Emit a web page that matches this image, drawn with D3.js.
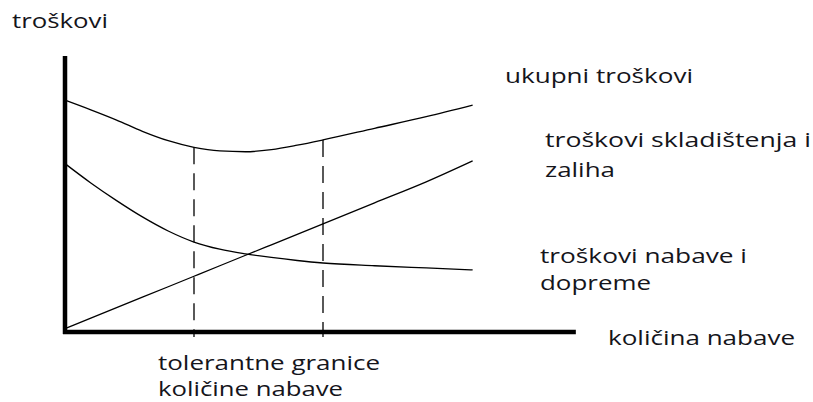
<!DOCTYPE html>
<html lang="hr">
<head>
<meta charset="UTF-8">
<title>Troškovi i količina nabave</title>
<script src="https://d3js.org/d3.v7.min.js"></script>
<style>
    body { margin: 0; background: #fff; }
    .axis { stroke: #000; stroke-width: 4.5px; }
    .curve { fill: none; stroke: #000; stroke-width: 1.3px; }
    .limit { stroke: #000; stroke-width: 1.3px; stroke-dasharray: 17 9; }
    text { font-family: "Open Sans", sans-serif; font-size: 20px; fill: #15151b; }
</style>
</head>
<body>
<svg width="813" height="402"></svg>
<script>
    // količina nabave (x) and troškovi (y) in arbitrary units
    const qty = [0, 5, 10, 15, 20, 25, 30, 35, 40, 45, 50, 60, 70, 79];
    const ukupni = [84, 80.5, 76.8, 72.7, 69.3, 66.9, 65.6, 65.3, 66.1, 67.7, 69.6, 73.8, 78, 82.2];
    const nabave = [61, 54, 47.6, 41.7, 36.6, 32.6, 30, 28.3, 27, 25.9, 25, 24, 23.2, 22.5];
    const skladistenje = [1.2, 5, 8.8, 12.6, 16.4, 20.2, 24, 27.8, 31.6, 35.4, 39.2, 46.8, 54.4, 62];
    const limits = [25, 50];
    const xMax = 99;

    // labels: text, x, baseline, width
    const labels = [
        { t: "troškovi", x: 12, y: 28, w: 96 },
        { t: "ukupni troškovi", x: 505, y: 83, w: 188 },
        { t: "troškovi skladištenja i", x: 545, y: 147, w: 266 },
        { t: "zaliha", x: 545, y: 177, w: 70 },
        { t: "troškovi nabave i", x: 540, y: 263, w: 207 },
        { t: "dopreme", x: 540, y: 290, w: 111 },
        { t: "količina nabave", x: 608, y: 345, w: 187 },
        { t: "tolerantne granice", x: 158, y: 370, w: 222 },
        { t: "količine nabave", x: 158, y: 396, w: 185 }
    ];

    const svg = d3.select("svg");
    const x = d3.scaleLinear().domain([0, 100]).range([65, 581]);
    const y = d3.scaleLinear().domain([0, 100]).range([332, 56]);

    const line = d3.line()
        .x((d, i) => x(qty[i]))
        .y(d => y(d))
        .curve(d3.curveMonotoneX);

    // dashed tolerance limits
    svg.selectAll(".limit")
        .data(limits)
        .enter().append("line")
        .attr("class", "limit")
        .attr("x1", d => x(d))
        .attr("x2", d => x(d))
        .attr("y1", d => y(ukupni[qty.indexOf(d)]))
        .attr("y2", y(0) + 5);

    svg.selectAll(".curve")
        .data([ukupni, nabave, skladistenje])
        .enter().append("path")
        .attr("class", "curve")
        .attr("d", line);

    // axes
    svg.append("line").attr("class", "axis")
        .attr("x1", x(0)).attr("x2", x(0))
        .attr("y1", y(100)).attr("y2", y(0) + 2);
    svg.append("line").attr("class", "axis")
        .attr("x1", x(0) - 2).attr("x2", x(xMax))
        .attr("y1", y(0)).attr("y2", y(0));

    svg.selectAll(".label")
        .data(labels)
        .enter().append("text")
        .attr("class", "label")
        .attr("x", d => d.x)
        .attr("y", d => d.y)
        .attr("textLength", d => d.w)
        .attr("lengthAdjust", "spacingAndGlyphs")
        .text(d => d.t);
</script>
</body>
</html>
